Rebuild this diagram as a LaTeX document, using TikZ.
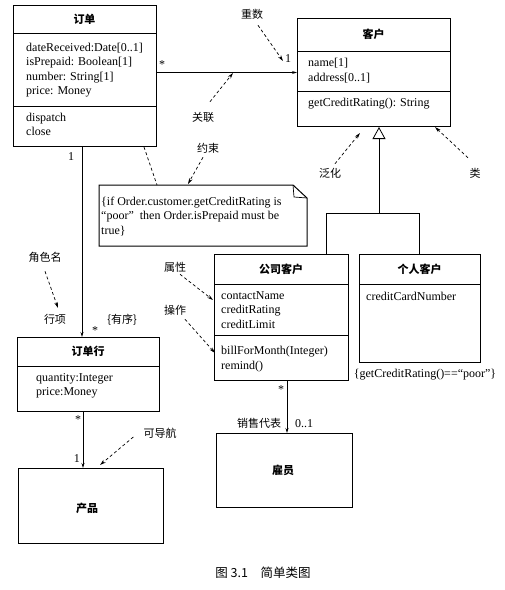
\documentclass[tikz,border=0pt]{standalone}
\usepackage{fontspec}
\setmainfont{Liberation Serif}
\newfontfamily\cjk{Noto Sans CJK SC}
\usetikzlibrary{arrows.meta}
\tikzset{
  box/.style={draw, line width=1pt, inner sep=0pt, anchor=north west},
  sep/.style={line width=0.8pt},
  ttl/.style={font=\cjk\bfseries\fontsize{11}{13}\selectfont, inner sep=0pt},
  lbl/.style={font=\cjk\fontsize{11}{13}\selectfont, inner sep=0pt},
  txt/.style={font=\fontsize{12}{14.5}\selectfont, align=left, anchor=west, inner sep=0pt},
  mult/.style={font=\fontsize{12}{14}\selectfont, inner sep=0pt},
  ptr/.style={dash pattern=on 3pt off 2.5pt, line width=0.7pt, -{Stealth[length=6pt,width=3.5pt]}},
  anchorline/.style={dash pattern=on 3pt off 2.5pt, line width=0.7pt},
  assoc/.style={line width=0.8pt},
  nav/.style={assoc, -{Stealth[length=5pt,width=3pt]}},
}
\begin{document}
\begin{tikzpicture}[x=1pt,y=-1pt]
\useasboundingbox (0,0) rectangle (505,590);

% ---- Order
\node[box, minimum width=143pt, minimum height=141pt] (order) at (13,5) {};
\draw[sep] (13,33) -- (156,33);
\draw[sep] (13,106) -- (156,106);
\node[ttl] (orderT) at (84.5,19.5) {订单};
\node[txt] (orderA) at (26,70) {dateReceived:Date[0..1]\\isPrepaid: Boolean[1]\\number: String[1]\\price: Money};
\node[txt] (orderO) at (26,124.5) {dispatch\\close};

% ---- Customer
\node[box, minimum width=153pt, minimum height=108pt] (cust) at (297,18) {};
\draw[sep] (297,51) -- (450,51);
\draw[sep] (297,91) -- (450,91);
\node[ttl] (custT) at (373.5,34.5) {客户};
\node[txt] (custA) at (308,70.5) {name[1]\\address[0..1]};
\node[txt] (custO) at (308,104) {getCreditRating(): String};

% ---- Corporate customer
\node[box, minimum width=134pt, minimum height=126pt] (corp) at (214,254) {};
\draw[sep] (214,284) -- (348,284);
\draw[sep] (214,335) -- (348,335);
\node[ttl] (corpT) at (281,269) {公司客户};
\node[txt] (corpA) at (221,310) {contactName\\creditRating\\creditLimit};
\node[txt] (corpO) at (221,359) {billForMonth(Integer)\\remind()};

% ---- Personal customer
\node[box, minimum width=121pt, minimum height=108pt] (pers) at (359,254) {};
\draw[sep] (359,284) -- (480,284);
\node[ttl] (persT) at (419.5,269) {个人客户};
\node[txt] (persA) at (366,296) {creditCardNumber};
\node[txt, anchor=center] (persC) at (425,375) {\{getCreditRating()==``poor''\}};

% ---- Order line
\node[box, minimum width=142pt, minimum height=74pt] (line) at (17,337) {};
\draw[sep] (17,366) -- (159,366);
\node[ttl] (lineT) at (88,351.5) {订单行};
\node[txt] (lineA) at (36,386) {quantity:Integer\\price:Money};

% ---- Product
\node[box, minimum width=145pt, minimum height=75pt] (prod) at (18,468) {};
\node[ttl] (prodT) at (87,508) {产品};

% ---- Employee
\node[box, minimum width=136pt, minimum height=74pt] (emp) at (216,433) {};
\node[ttl] (empT) at (283,470) {雇员};

% ---- Note
\node[txt] (note) at (101,216.5) {\{if Order.customer.getCreditRating is\\``poor''\ \ then Order.isPrepaid must be\\true\}};
\draw[line width=1pt] (99,185) -- (293,185) -- (307,198) -- (307,246) -- (99,246) -- cycle;
\draw[line width=0.7pt] (293,185) -- (294,197) -- (307,198);

% ---- associations
\coordinate (cx1) at (82,0);
\coordinate (cx2) at (83,0);
\coordinate (cx3) at (287,0);
\draw[nav] (order.east |- cust.west) -- (cust.west);
\draw[nav] (order.south -| cx1) -- (line.north -| cx1);
\draw[nav] (line.south -| cx2) -- (prod.north -| cx2);
\draw[nav] (corp.south -| cx3) -- (emp.north -| cx3);

% ---- generalization
\coordinate (gj) at (379,213);
\coordinate (gl) at (326,213);
\coordinate (gr) at (419,213);
\draw[assoc, -{Triangle[open, length=12pt, width=13pt]}] (gj) -- (cust.south -| gj);
\draw[assoc] (corp.north -| gl) -- (gl) -- (gr) -- (pers.north -| gr);

% ---- multiplicities and role names
\node[mult] (m1) at (162,65) {*};
\node[mult] (m2) at (288,59) {1};
\node[mult] (m3) at (71,157) {1};
\node[mult] (m4) at (95,331) {*};
\node[lbl] (ordered) at (122,320) {\{有序\}};
\node[mult] (m5) at (78,420) {*};
\node[mult] (m6) at (77,459) {1};
\node[mult] (m7) at (281,390) {*};
\node[lbl] (salesrep) at (259,423) {销售代表};
\node[mult] (m8) at (304,424) {0..1};
\node[lbl] (roleLine) at (55,319) {行项};

% ---- annotation labels
\node[lbl] (multL) at (252,14) {重数};
\node[lbl] (assocL) at (203,117) {关联};
\node[lbl] (consL) at (208,148) {约束};
\node[lbl] (roleL) at (45,257) {角色名};
\node[lbl] (navL) at (160,433) {可导航};
\node[lbl] (genL) at (330,173) {泛化};
\node[lbl] (clsL) at (475,173) {类};
\node[lbl] (attrL) at (175,267) {属性};
\node[lbl] (opL) at (175,310) {操作};

\coordinate (t1) at (283,61);
\coordinate (t2) at (233,73);
\coordinate (t3) at (188,184);
\coordinate (t4) at (157,185);
\coordinate (t5) at (58,308);
\coordinate (t6) at (100,465);
\coordinate (t7) at (360,133);
\coordinate (t8) at (435,127);
\coordinate (t9) at (213,300);
\coordinate (t10) at (215,353);

\draw[ptr] ([shift={(6,6)}]multL.south) -- (t1);
\draw[ptr] ([shift={(7,-10)}]assocL.north) -- (t2);
\draw[ptr] ([shift={(-5,4)}]consL.south) -- (t3);
\draw[anchorline] ([shift={(-13,0)}]order.south east) -- (t4);
\draw[ptr] ([shift={(0,9)}]roleL.south) -- (t5);
\draw[ptr] ([shift={(-10,4)}]navL.west) -- (t6);
\draw[ptr] ([shift={(5,-4)}]genL.north) -- (t7);
\draw[ptr] ([shift={(-7,-10)}]clsL.north) -- (t8);
\draw[ptr] ([shift={(5,2)}]attrL.south) -- (t9);
\draw[ptr] ([shift={(10,4)}]opL.south) -- (t10);

% ---- caption
\node[font=\cjk\fontsize{12.5}{14}\selectfont, inner sep=0pt] (caption) at (263,573) {图 3.1\quad 简单类图};
\end{tikzpicture}
\end{document}
